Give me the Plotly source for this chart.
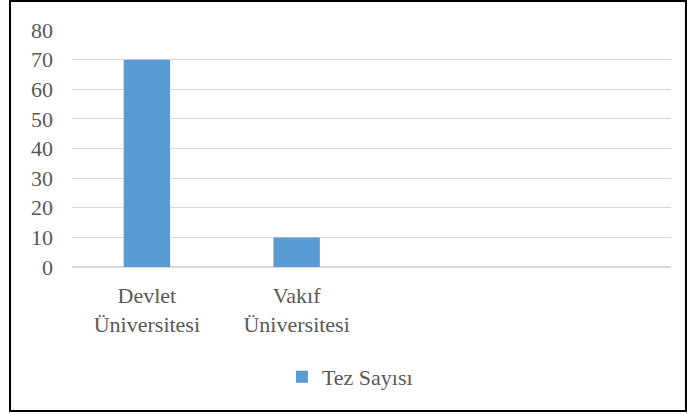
import plotly.graph_objects as go

categories = ["Devlet<br>Üniversitesi", "Vakıf<br>Üniversitesi"]
tez_sayisi = [70, 10]
series_name = "Tez Sayısı"

font_family = "Liberation Serif"
text_color = "#595959"
fs = 22

fig = go.Figure()
fig.add_trace(
    go.Bar(
        x=categories,
        y=tez_sayisi,
        name=series_name,
        marker=dict(color="#5B9BD5", line=dict(width=0)),
        width=0.31,
        showlegend=True,
    )
)

fig.update_layout(
    width=689,
    height=414,
    margin=dict(l=72, r=18, t=30, b=147),
    paper_bgcolor="white",
    plot_bgcolor="white",
    font=dict(family=font_family, color=text_color, size=fs),
    showlegend=True,
    modebar=dict(
        bgcolor="rgba(0,0,0,0)",
        color="rgba(0,0,0,0)",
        activecolor="rgba(0,0,0,0)",
    ),
    legend=dict(
        orientation="h",
        x=0.464,
        y=-0.464,
        xanchor="center",
        yanchor="middle",
        font=dict(family=font_family, size=fs, color=text_color),
        itemwidth=30,
    ),
    xaxis=dict(
        type="category",
        categoryorder="array",
        categoryarray=categories,
        range=[-0.5, 3.5],
        showgrid=False,
        showline=True,
        linecolor="#D9D9D9",
        linewidth=1,
        ticks="",
        ticklabelstandoff=9,
        tickfont=dict(family=font_family, size=fs, color=text_color),
    ),
    yaxis=dict(
        range=[0, 80],
        dtick=10,
        showgrid=True,
        gridcolor="#D9D9D9",
        gridwidth=1,
        zeroline=True,
        zerolinecolor="#D9D9D9",
        showline=False,
        ticks="",
        ticklabelstandoff=18,
        tickfont=dict(family=font_family, size=fs, color=text_color),
    ),
    shapes=[
        dict(
            type="rect",
            xref="paper",
            yref="paper",
            x0=-0.1035,
            x1=1.025,
            y0=-0.6076,
            y1=1.1224,
            line=dict(color="black", width=2),
            fillcolor="rgba(0,0,0,0)",
            layer="above",
        )
    ],
)

# drop the page margin, hide the plotly logo in the modebar
js = (
    "document.body.style.margin='0px';"
    "var s=document.createElement('style');"
    "s.innerHTML='.modebar-btn--logo{visibility:hidden !important}';"
    "document.head.appendChild(s);"
)
fig.write_html("out.html", post_script=js)
